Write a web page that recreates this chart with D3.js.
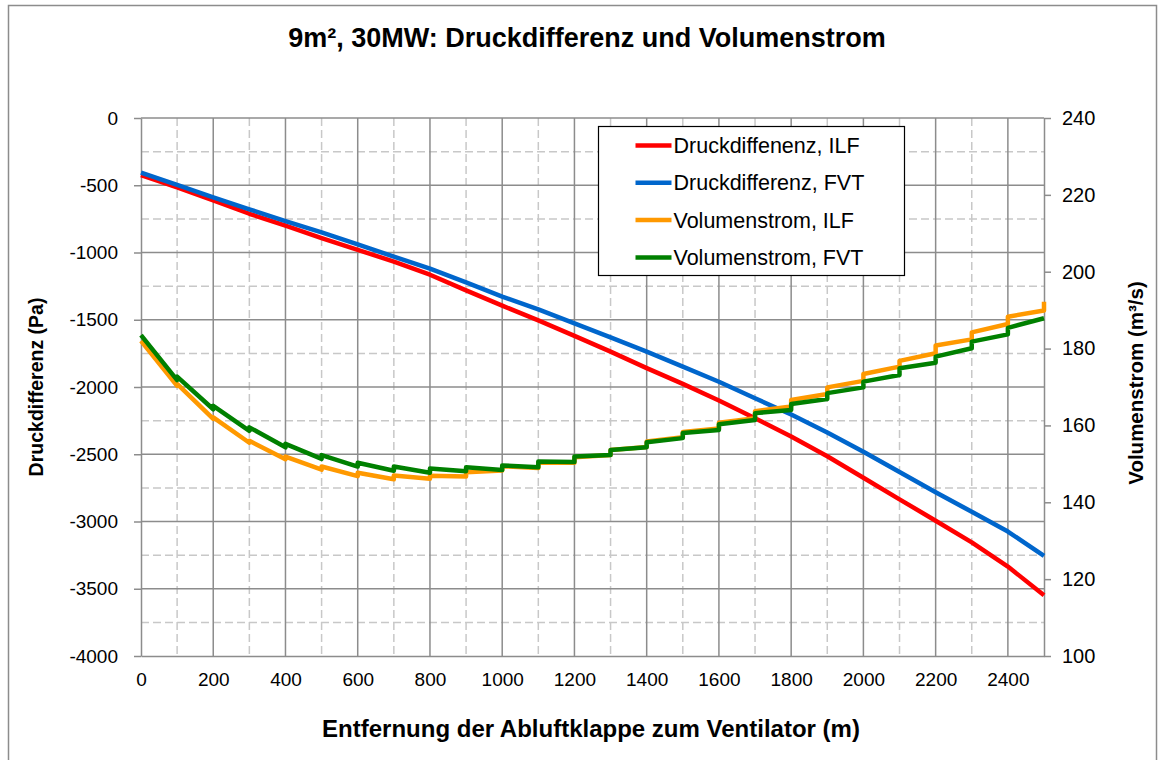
<!DOCTYPE html>
<html>
<head>
<meta charset="utf-8">
<title>9m², 30MW: Druckdifferenz und Volumenstrom</title>
<script src="https://cdn.jsdelivr.net/npm/d3@7"></script>
<style>
    body { margin: 0; background: #fff; }
    svg { display: block; font-family: 'Liberation Sans', Arial, sans-serif; }
    .grid-major line { stroke: #8c8c8c; stroke-width: 1.5; }
    .grid-minor line { stroke: #c8c8c8; stroke-width: 1.5; stroke-dasharray: 8 4; }
    .axis path, .axis line { stroke: #8c8c8c; stroke-width: 1.5; }
    .axis text { font-size: 19px; fill: #000; }
    .y-right text { font-size: 20px; }
    .axis-title { font-weight: bold; }
    .series { fill: none; stroke-width: 4.5; stroke-linejoin: round; }
</style>
</head>
<body>
<div id="chart"></div>
<script>
(function () {'use strict';

// Entfernung der Abluftklappe zum Ventilator (m)
var distanz = [0, 100, 200, 300, 400, 500, 600, 700, 800, 900, 1000, 1100, 1200,
               1300, 1400, 1500, 1600, 1700, 1800, 1900, 2000, 2100, 2200, 2300, 2400, 2500];

// Druckdifferenz (Pa)
var druckILF = [-425, -515, -612, -712, -800, -893, -980, -1068, -1165, -1282, -1395, -1505, -1620,
                -1737, -1860, -1977, -2100, -2232, -2368, -2515, -2675, -2835, -2994, -3155, -3335, -3548];
var druckFVT = [-406, -498, -590, -679, -766, -850, -939, -1031, -1120, -1222, -1328, -1423, -1527,
                -1631, -1737, -1849, -1961, -2084, -2205, -2338, -2481, -2632, -2783, -2928, -3075, -3255];

// Volumenstrom (m³/s): kurz vor der Klappe und direkt danach
var volILFVor  = [182.0, 170.3, 161.7, 155.5, 151.2, 148.5, 146.8, 146.0, 146.1, 146.7, 148.3, 148.9, 150.3,
                  152.3, 154.4, 156.9, 159.2, 161.9, 164.9, 168.2, 171.6, 175.3, 178.8, 182.4, 186.4, 189.9];
var volILFNach = [182.0, 170.8, 162.1, 156.0, 151.9, 149.3, 147.7, 147.0, 146.9, 147.8, 149.4, 150.3, 151.7,
                  153.6, 155.8, 158.3, 160.7, 163.7, 166.6, 169.9, 173.4, 176.8, 180.8, 184.2, 188.3, 192.2];
var volFVTVor  = [183.5, 171.8, 164.2, 158.6, 154.3, 151.3, 149.3, 148.2, 147.7, 148.1, 148.4, 149.1, 150.5,
                  152.3, 154.3, 156.7, 158.8, 161.4, 164.0, 166.9, 169.9, 173.1, 176.3, 180.1, 183.7, 187.9];
var volFVTNach = [183.5, 172.7, 165.1, 159.5, 155.2, 152.3, 150.3, 149.3, 148.8, 149.1, 149.6, 150.6, 151.9,
                  153.6, 155.6, 158.0, 160.3, 163.2, 165.6, 168.4, 171.4, 174.9, 177.9, 181.8, 185.4, 187.9];

var xTicks     = [0, 200, 400, 600, 800, 1000, 1200, 1400, 1600, 1800, 2000, 2200, 2400];
var druckTicks = [0, -500, -1000, -1500, -2000, -2500, -3000, -3500, -4000];
var volTicks   = [100, 120, 140, 160, 180, 200, 220, 240];

var W = 1162,
    H = 760,
    margin = { top: 118, right: 118, bottom: 104, left: 141 },
    width  = W - margin.left - margin.right,
    height = H - margin.top - margin.bottom;

var x = d3.scaleLinear().domain([0, 2500]).range([0, width]),
    yDruck = d3.scaleLinear().domain([-4000, 0]).range([height, 0]),
    yVol = d3.scaleLinear().domain([100, 240]).range([height, 0]);

function simple(values) {
    return values.map(function (v, i) { return { x: distanz[i], y: v }; });
}

// Sprung an jeder Klappe: zwei Punkte mit gleicher Entfernung
function stepped(vor, nach) {
    var pts = [];
    distanz.forEach(function (d, i) {
        if (i > 0) pts.push({ x: d, y: vor[i] });
        pts.push({ x: d, y: nach[i] });
    });
    return pts;
}

var series = [
    { name: 'Druckdiffenenz, ILF',  color: '#ff0000', scale: yDruck, points: simple(druckILF) },
    { name: 'Druckdifferenz, FVT',  color: '#0066cc', scale: yDruck, points: simple(druckFVT) },
    { name: 'Volumenstrom, ILF',    color: '#ff9900', scale: yVol,   points: stepped(volILFVor, volILFNach) },
    { name: 'Volumenstrom, FVT',    color: '#008000', scale: yVol,   points: stepped(volFVTVor, volFVTNach) }
];

var svg = d3.select('#chart')
    .append('svg')
        .attr('width', W)
        .attr('height', H);

svg.append('rect')
    .attr('x', 8.5)
    .attr('y', 5.5)
    .attr('width', 1148)
    .attr('height', H)
    .attr('fill', '#fff')
    .attr('stroke', '#8c8c8c')
    .attr('stroke-width', 1.5);

svg.append('text')
    .attr('x', 587)
    .attr('y', 47)
    .attr('text-anchor', 'middle')
    .style('font-size', '27px')
    .style('font-weight', 'bold')
    .text('9m², 30MW: Druckdifferenz und Volumenstrom');

var chart = svg.append('g')
    .attr('transform', 'translate(' + margin.left + ',' + margin.top + ')');

/*
 * GRID
 */
var minorX = d3.range(100, 2500, 200),
    minorY = d3.range(-250, -4000, -500);

chart.append('g')
    .attr('class', 'grid-minor')
    .selectAll('line.v')
    .data(minorX)
    .enter().append('line')
        .attr('x1', function (d) { return x(d); })
        .attr('x2', function (d) { return x(d); })
        .attr('y1', 0)
        .attr('y2', height);

chart.select('.grid-minor')
    .selectAll('line.h')
    .data(minorY)
    .enter().append('line')
        .attr('class', 'h')
        .attr('x1', 0)
        .attr('x2', width)
        .attr('y1', function (d) { return yDruck(d); })
        .attr('y2', function (d) { return yDruck(d); });

var grid = chart.append('g').attr('class', 'grid-major');

grid.selectAll('line.v')
    .data(xTicks.slice(1))
    .enter().append('line')
        .attr('class', 'v')
        .attr('x1', function (d) { return x(d); })
        .attr('x2', function (d) { return x(d); })
        .attr('y1', 0)
        .attr('y2', height);

grid.selectAll('line.h')
    .data(druckTicks.slice(0, -1))
    .enter().append('line')
        .attr('class', 'h')
        .attr('x1', 0)
        .attr('x2', width)
        .attr('y1', function (d) { return yDruck(d); })
        .attr('y2', function (d) { return yDruck(d); });

/*
 * AXES
 */
chart.append('g')
    .attr('class', 'axis x')
    .attr('transform', 'translate(0,' + height + ')')
    .call(d3.axisBottom(x).tickValues(xTicks).tickSize(0).tickPadding(17).tickFormat(d3.format('d')));

chart.append('g')
    .attr('class', 'axis y-left')
    .call(d3.axisLeft(yDruck).tickValues(druckTicks).tickSize(7).tickPadding(16).tickSizeOuter(0)
        .tickFormat(function (d) { return String(d); }));

chart.append('g')
    .attr('class', 'axis y-right')
    .attr('transform', 'translate(' + width + ',0)')
    .call(d3.axisRight(yVol).tickValues(volTicks).tickSize(7).tickPadding(11).tickSizeOuter(0));

chart.selectAll('.axis text').attr('fill', '#000');

chart.append('text')
    .attr('class', 'axis-title')
    .attr('x', 450)
    .attr('y', height + 81)
    .attr('text-anchor', 'middle')
    .style('font-size', '24px')
    .text('Entfernung der Abluftklappe zum Ventilator (m)');

chart.append('text')
    .attr('class', 'axis-title')
    .attr('transform', 'translate(-98,' + height / 2 + ') rotate(-90)')
    .attr('text-anchor', 'middle')
    .style('font-size', '19.5px')
    .text('Druckdifferenz (Pa)');

chart.append('text')
    .attr('class', 'axis-title')
    .attr('transform', 'translate(' + (width + 99) + ',' + (height / 2 - 4) + ') rotate(-90)')
    .attr('text-anchor', 'middle')
    .style('font-size', '20.5px')
    .text('Volumenstrom (m³/s)');

/*
 * SERIES
 */
series.forEach(function (s) {
    var line = d3.line()
        .x(function (d) { return x(d.x); })
        .y(function (d) { return s.scale(d.y); });

    chart.append('path')
        .attr('class', 'series')
        .attr('stroke', s.color)
        .attr('d', line(s.points));
});

/*
 * LEGEND
 */
var legend = svg.append('g')
    .attr('transform', 'translate(598.5,126.5)');

legend.append('rect')
    .attr('width', 306)
    .attr('height', 149)
    .attr('fill', '#fff')
    .attr('stroke', '#000')
    .attr('stroke-width', 1.2);

var item = legend.selectAll('g.item')
    .data(series)
    .enter().append('g')
        .attr('class', 'item')
        .attr('transform', function (d, i) { return 'translate(0,' + (19 + i * 37.3) + ')'; });

item.append('line')
    .attr('x1', 37)
    .attr('x2', 73)
    .attr('stroke', function (d) { return d.color; })
    .attr('stroke-width', 4.5);

item.append('text')
    .attr('x', 75)
    .attr('dy', '0.35em')
    .style('font-size', '21.5px')
    .text(function (d) { return d.name; });

})();
</script>
</body>
</html>
